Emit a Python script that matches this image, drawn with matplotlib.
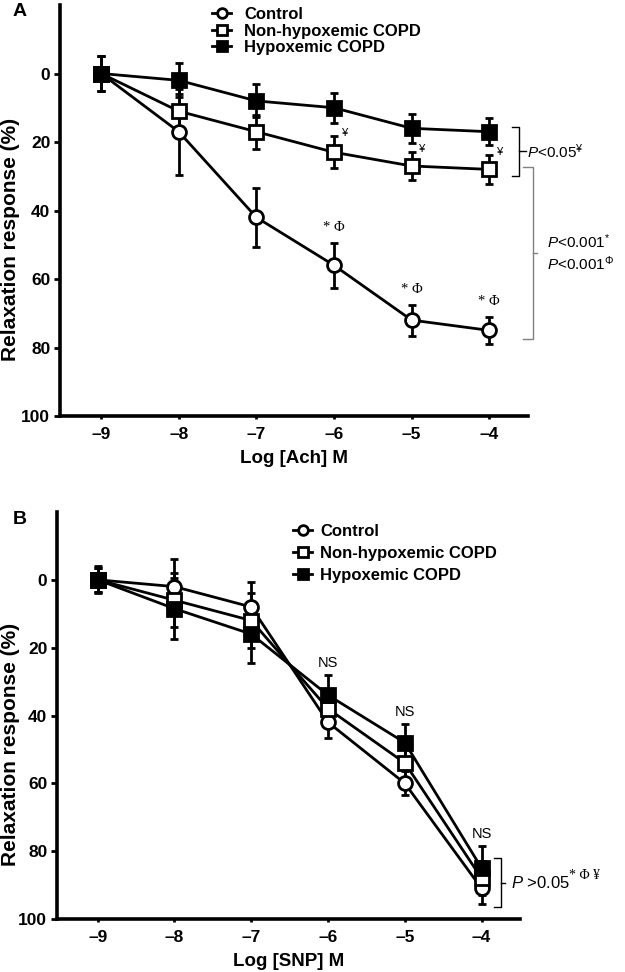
import matplotlib
matplotlib.use("Agg")
import matplotlib.pyplot as plt

plt.rcParams['font.family'] = ['Liberation Sans', 'DejaVu Sans']
plt.rcParams['mathtext.fontset'] = 'custom'
plt.rcParams['mathtext.rm'] = 'Liberation Sans'
plt.rcParams['mathtext.it'] = 'Liberation Sans:italic'

# Данные
log_conc = [-9, -8, -7, -6, -5, -4]
series_names = ['Control', 'Non-hypoxemic COPD', 'Hypoxemic COPD']

# Панель A: ацетилхолин
ach_control = [0, 17, 42, 56, 72, 75]
ach_control_err = [5, 12.5, 8.7, 6.6, 4.5, 4]
ach_nonhyp = [0, 11, 17, 23, 27, 28]
ach_nonhyp_err = [5, 5, 5, 4.7, 4, 4.2]
ach_hyp = [0, 2, 8, 10, 16, 17]
ach_hyp_err = [5, 5, 4.8, 4.4, 4.3, 4]

# Панель B: нитропруссид натрия
snp_control = [0, 2, 8, 42, 60, 91]
snp_control_err = [4, 8, 7.4, 4.5, 3.5, 4.5]
snp_nonhyp = [0, 6, 12, 38, 54, 88]
snp_nonhyp_err = [3.5, 8, 8, 5, 5, 5]
snp_hyp = [0, 8.5, 16, 34, 48, 85]
snp_hyp_err = [3.5, 9, 8.5, 6, 5.5, 6.5]

W, H = 625, 972
fig = plt.figure(figsize=(W / 100, H / 100), dpi=100)
axA = fig.add_axes([60 / W, 1 - 416 / H, (528 - 60) / W, (416 - 5) / H])
axB = fig.add_axes([57 / W, 1 - 919 / H, (520 - 57) / W, (919 - 512) / H])

styles = [
    dict(marker='o', mfc='white'),
    dict(marker='s', mfc='white'),
    dict(marker='s', mfc='black'),
]


def draw_panel(ax, ys, errs, xlabel, left_px, width_px):
    handles = []
    for y, e, st in zip(ys, errs, styles):
        c = ax.errorbar(log_conc, y, yerr=e, color='black', lw=2.0,
                        marker=st['marker'], mfc=st['mfc'], mec='black',
                        mew=2.0, ms=10, elinewidth=2.0, capsize=3,
                        capthick=2.0, clip_on=False, zorder=3)
        handles.append(c[0])
    ax.set_xlim(-9.53, -3.5)
    ax.set_ylim(100, -20)
    ax.set_yticks([0, 20, 40, 60, 80, 100])
    ax.set_xticks(log_conc)
    ax.set_xticklabels(['\u2013' + str(abs(v)) for v in log_conc])
    for s in ['top', 'right']:
        ax.spines[s].set_visible(False)
    for s in ['left', 'bottom']:
        ax.spines[s].set_linewidth(2.6)
    ax.tick_params(axis='y', direction='out', length=4, width=2, labelsize=12.5, pad=3)
    ax.tick_params(axis='x', direction='out', length=2, width=2, labelsize=12.5, pad=6)
    for lab in ax.get_xticklabels() + ax.get_yticklabels():
        lab.set_fontweight('bold')
    ax.set_xlabel(xlabel, fontsize=13.5, fontweight='bold', labelpad=6)
    ax.set_ylabel('Relaxation response (%)', fontsize=15, fontweight='bold', va='center')
    ax.yaxis.set_label_coords((11 - left_px) / width_px, 0.43)
    return handles


# ---- Панель A ----
hA = draw_panel(axA, [ach_control, ach_nonhyp, ach_hyp],
                [ach_control_err, ach_nonhyp_err, ach_hyp_err], 'Log [Ach] M', 60, 468)
axA.legend(hA, series_names, loc='upper left', bbox_to_anchor=(204 / W, 1 + 1 / H),
           bbox_transform=fig.transFigure, frameon=False, borderpad=0,
           handlelength=1.1, handletextpad=0.8, labelspacing=0.08, markerscale=0.7,
           prop=dict(weight='bold', size=12))

for i in [3, 4, 5]:
    x = log_conc[i]
    axA.text(x, ach_control[i] - ach_control_err[i] - 4.5, '* \u03a6', ha='center',
             va='center', fontsize=10.5, family='Liberation Serif', clip_on=False)
    axA.text(x + 0.1, ach_nonhyp[i] - ach_nonhyp_err[i] - 1, '\u00a5', ha='left',
             va='center', fontsize=8, clip_on=False)

# скобки
yt, yb = ach_hyp[-1] - 1.5, ach_nonhyp[-1] + 2
axA.plot([-3.70, -3.61, -3.61, -3.70], [yt, yt, yb, yb], color='black', lw=1.0, clip_on=False)
ym = (yt + yb) / 2
axA.plot([-3.61, -3.53], [ym, ym], color='black', lw=1.0, clip_on=False)
axA.text(-3.51, ym, r'$\it{P}$<0.05$^{¥}$', ha='left', va='center', fontsize=11, clip_on=False)

yt2, yb2 = ach_nonhyp[-1] - 0.8, ach_control[-1] + 2.5
axA.plot([-3.57, -3.44, -3.44, -3.57], [yt2, yt2, yb2, yb2], color='grey', lw=1.0, clip_on=False)
ym2 = (yt2 + yb2) / 2
axA.plot([-3.44, -3.38], [ym2, ym2], color='grey', lw=1.0, clip_on=False)
axA.text(-3.25, ym2 - 3.3, r'$\it{P}$<0.001$^{*}$', ha='left', va='center', fontsize=11, clip_on=False)
axA.text(-3.25, ym2 + 3.3, r'$\it{P}$<0.001$^{Φ}$', ha='left', va='center', fontsize=11, clip_on=False)

fig.text(20 / W, 1 - 12 / H, 'A', fontsize=14, fontweight='bold', ha='center', va='center')

# ---- Панель B ----
hB = draw_panel(axB, [snp_control, snp_nonhyp, snp_hyp],
                [snp_control_err, snp_nonhyp_err, snp_hyp_err], 'Log [SNP] M', 57, 463)
axB.legend(hB, series_names, loc='upper left', bbox_to_anchor=(285 / W, 1 - 516 / H),
           bbox_transform=fig.transFigure, frameon=False, borderpad=0,
           handlelength=1.1, handletextpad=0.5, labelspacing=0.42, markerscale=0.7,
           prop=dict(weight='bold', size=12))

for i in [3, 4, 5]:
    axB.text(log_conc[i], snp_hyp[i] - snp_hyp_err[i] - 3.5, 'NS', ha='center',
             va='center', fontsize=10.5, clip_on=False)

yt3, yb3 = snp_hyp[-1] - 3, snp_control[-1] + 5.5
axB.plot([-3.84, -3.75, -3.75, -3.84], [yt3, yt3, yb3, yb3], color='black', lw=1.0, clip_on=False)
ym3 = (yt3 + yb3) / 2
axB.plot([-3.75, -3.69], [ym3, ym3], color='black', lw=1.0, clip_on=False)
axB.text(-3.62, ym3, r'$\it{P}$ >0.05', ha='left', va='center', fontsize=12, clip_on=False)
axB.text(-2.86, ym3 - 2, '* \u03a6 \u00a5', ha='left', va='center', fontsize=10,
         family='Liberation Serif', clip_on=False)

fig.text(20 / W, 1 - 519 / H, 'B', fontsize=14, fontweight='bold', ha='center', va='center')

fig.savefig('out.png', dpi=100)
